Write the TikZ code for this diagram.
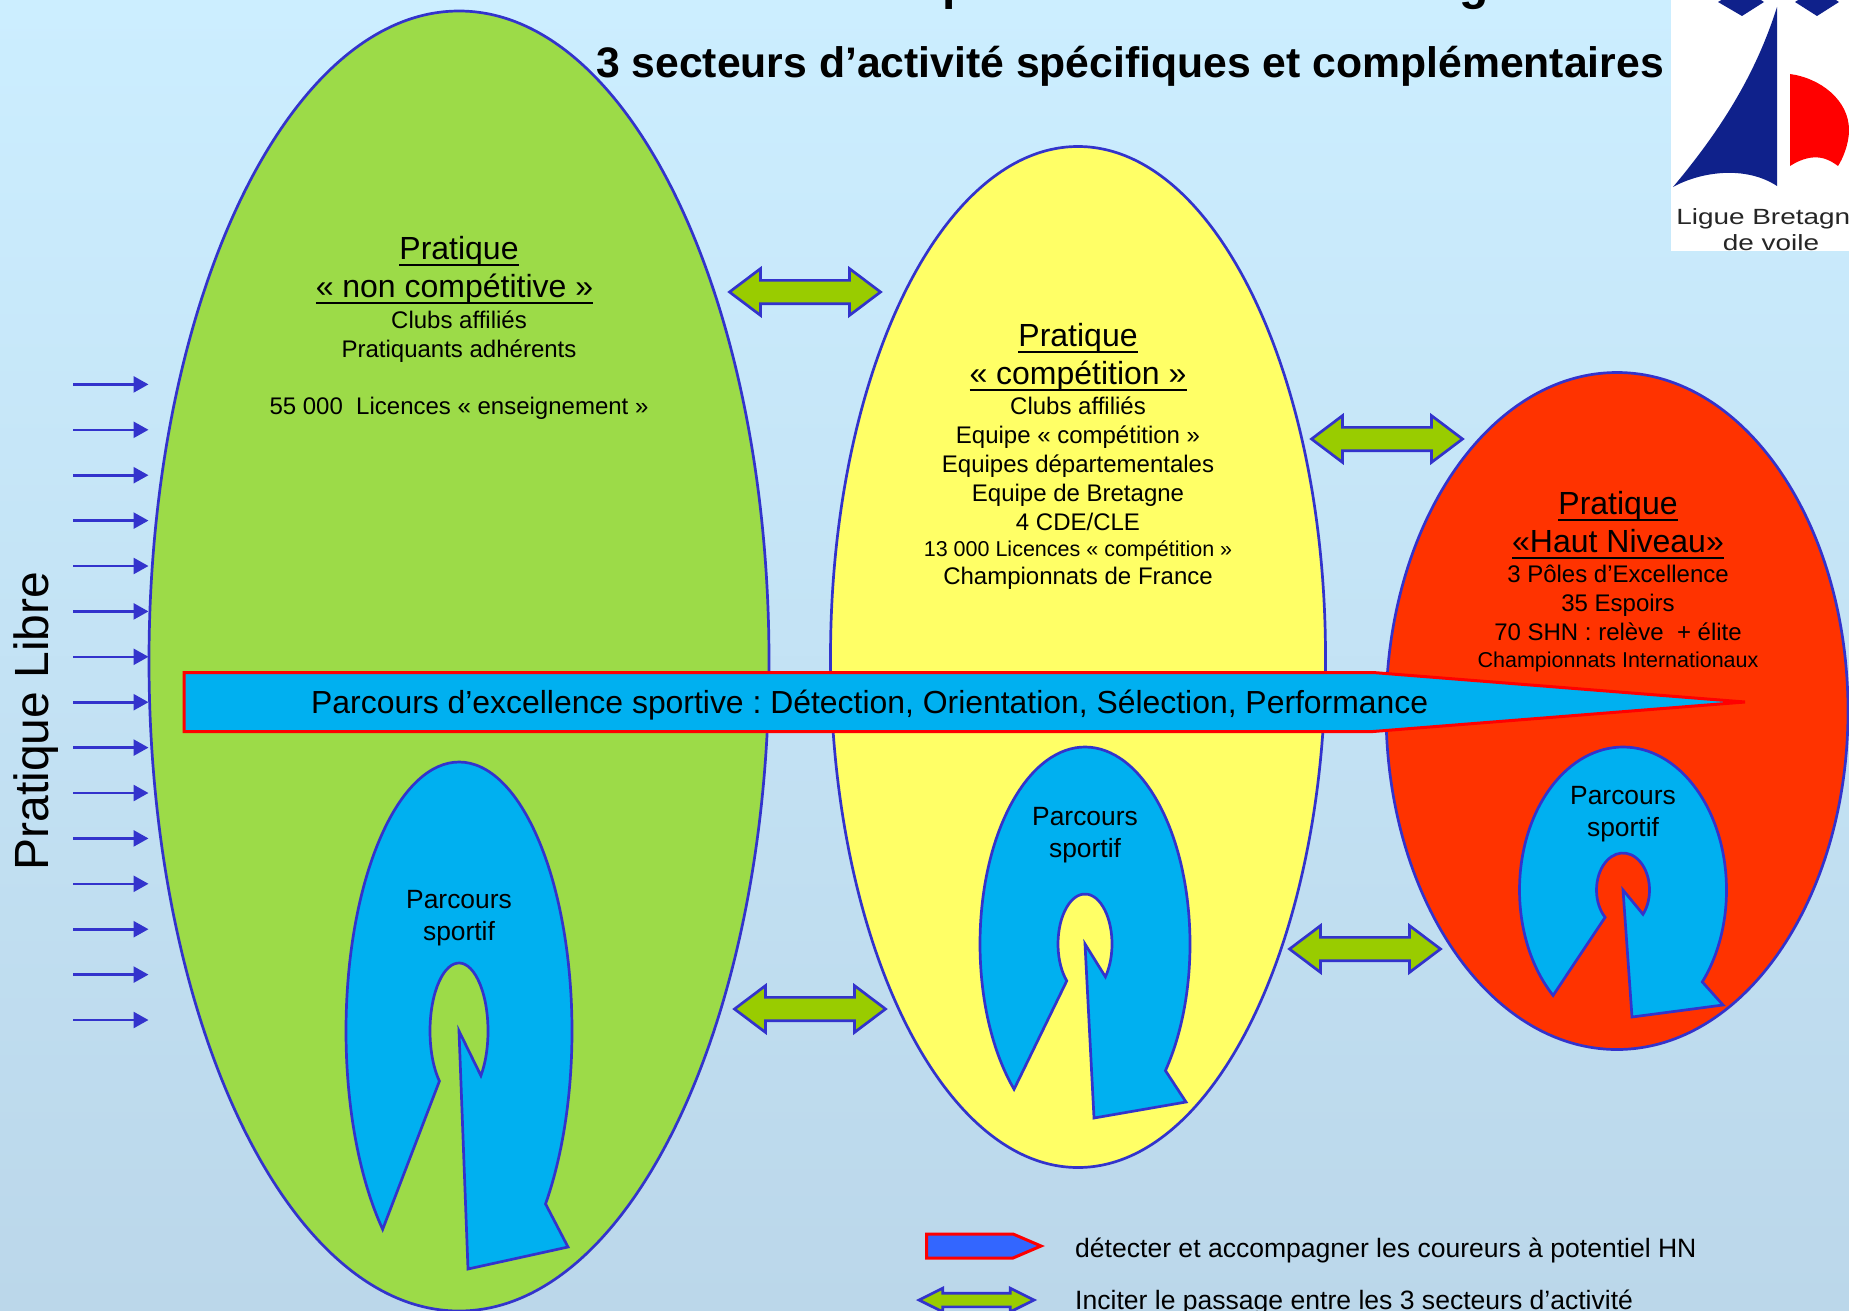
\documentclass[tikz,border=0pt]{standalone}
\usepackage{fontspec}
\setmainfont{Liberation Sans}
\usetikzlibrary{arrows.meta,calc,shapes.geometric,shapes.arrows}
\frenchspacing

\definecolor{fond1}{HTML}{CCEEFF}
\definecolor{fond2}{HTML}{BBD7EA}
\definecolor{vert}{HTML}{9CDB48}
\definecolor{jaune}{HTML}{FFFF66}
\definecolor{rouge}{HTML}{FF3300}
\definecolor{ciel}{HTML}{00B0F0}
\definecolor{trait}{HTML}{3333CC}
\definecolor{passage}{HTML}{99CC00}
\definecolor{marine}{HTML}{0F218B}
\definecolor{legbleu}{HTML}{3366FF}

% texte souligne, le trait passe sur les jambages
\newcommand{\souligne}[1]{\setbox0\hbox{#1}\rlap{\rule[-.22em]{\wd0}{.075em}}\box0}
% #1 centre, #2 #3 ellipse externe, #4 #5 ellipse interne, #6 #7 #8 pointe
\newcommand{\parcours}[8]{
  \draw[parcoursline] (#1) -- ++(-41:#4pt and #5pt)
    arc[start angle=-41, end angle=227.5, x radius=#4pt, y radius=#5pt]
    -- ($(#1)+(227.5:#2pt and #3pt)$)
    arc[start angle=227.5, end angle=-40, x radius=#2pt, y radius=#3pt]
    -- (#6) -- (#7) -- (#8) -- cycle;
}

\begin{document}
\begin{tikzpicture}[x=1pt,y=-1pt]

  \tikzstyle{secteur} = [ellipse,draw=trait,line width=2.7pt,inner sep=0pt]
  \tikzstyle{parcoursline} = [draw=trait,fill=ciel,line width=2.7pt,line join=miter]
  \tikzstyle{echange} = [double arrow,draw=trait,fill=passage,line width=2.7pt,
                         minimum height=151pt,inner xsep=0pt,inner ysep=10.3pt,
                         double arrow tip angle=74,double arrow head extend=11.7pt]
  \tikzstyle{titre} = [align=center,inner sep=0pt,anchor=north,font=\fontsize{32}{38}\selectfont]
  \tikzstyle{corps} = [align=center,inner sep=0pt,anchor=north,font=\fontsize{24}{28.8}\selectfont]
  \tikzstyle{petit} = [inner sep=0pt,anchor=base,font=\fontsize{21.5}{26}\selectfont]
  \tikzstyle{sportif} = [align=center,inner sep=0pt,anchor=north,font=\fontsize{26.4}{32}\selectfont]
  \tikzstyle{legende} = [inner sep=0pt,anchor=base west,font=\fontsize{26.55}{30}\selectfont]
  \tikzstyle{logotexte} = [inner sep=0pt,xscale=1.27,text=black!85,font=\fontsize{22}{26}\selectfont]

  \useasboundingbox (0,0) rectangle (1849,1311);
  \shade[top color=fond1,bottom color=fond2] (0,0) rectangle (1849,1311);

  % les trois secteurs
  \node[secteur,fill=vert,minimum width=620pt,minimum height=1300pt]  (noncomp) at (459,661) {};
  \node[secteur,fill=jaune,minimum width=495pt,minimum height=1021pt] (comp)    at (1078,657) {};
  \node[secteur,fill=rouge,minimum width=462pt,minimum height=677pt]  (haut)    at (1617,711) {};

  % titre
  \node[inner sep=0pt,anchor=base,font=\fontsize{48}{50}\bfseries\selectfont] (titreP) at (957,0) {p};
  \node[inner sep=0pt,anchor=base,font=\fontsize{48}{50}\bfseries\selectfont] (titreG) at (1474,0) {g};
  \node[inner sep=0pt,anchor=base,font=\fontsize{42.7}{50}\bfseries\selectfont] (soustitre) at (1130,78)
    {3 secteurs d’activité spécifiques et complémentaires};

  % logo
  \fill[white] (1671,0) rectangle (1849,251);
  \fill[marine] (1777,7) .. controls (1757,70) and (1725,125) .. (1673,187)
    .. controls (1700,172) and (1745,165) .. (1777,186) -- cycle;
  \fill[red] (1790,74) .. controls (1820,78) and (1849,100) .. (1849,130)
    .. controls (1849,145) and (1842,160) .. (1838,166)
    .. controls (1830,160) and (1815,150) .. (1790,166) -- cycle;
  \fill[marine] (1718,2) -- (1742,16) -- (1764,2) -- (1742,-12) -- cycle;
  \fill[marine] (1795,2) -- (1817,16) -- (1839,2) -- (1817,-12) -- cycle;
  \node[logotexte,anchor=base west] (logoA) at (1676,224) {Ligue Bretagne};
  \node[logotexte,anchor=base] (logoB) at (1771,250) {de voile};

  % parcours sportifs
  \parcours{459,1031}{113}{269}{29}{68}{568,1247}{468,1269}{459,1031}
  \parcours{1085,944}{105}{197}{27}{50}{1186,1102}{1094,1118}{1085,944}
  \parcours{1623,890}{103.5}{143}{26.5}{37}{1723,1005}{1632,1017}{1623,890}

  % fleche excellence
  \draw[draw=red,fill=ciel,line width=3pt,line join=miter]
    (184,672.5) -- (1373,672.5) -- (1745,702) -- (1373,731.5) -- (184,731.5) -- cycle;
  \node[inner sep=0pt,anchor=base west,font=\fontsize{31.9}{38}\selectfont] (excellence) at (311,713)
    {Parcours d’excellence sportive : Détection, Orientation, Sélection, Performance};

  % echanges entre secteurs
  \node[echange] (ech1) at (805,292) {};
  \node[echange] (ech2) at (1387,439) {};
  \node[echange] (ech3) at (1365,949) {};
  \node[echange] (ech4) at (810,1009) {};

  % textes secteur vert
  \node[titre] (titreA) at (459,236) {\souligne{Pratique}\\\souligne{«~non compétitive~»}\hspace*{9pt}};
  \node[corps] (corpsA) at (459,311) {Clubs affiliés\\Pratiquants adhérents\\[27.8pt]55 000~~Licences «~enseignement~»};
  % textes secteur jaune
  \node[titre] (titreB) at (1078,323) {\souligne{Pratique}\\\souligne{«~compétition~»}};
  \node[corps] (corpsB) at (1078,397) {Clubs affiliés\\Equipe «~compétition~»\\Equipes départementales\\Equipe de Bretagne\\4 CDE/CLE};
  \node[petit] (licB) at (1078,556.5) {13 000 Licences «~compétition~»};
  \node[corps,anchor=base] (champB) at (1078,584) {Championnats de France};
  % textes secteur rouge
  \node[titre] (titreC) at (1618,491) {\souligne{Pratique}\\\souligne{«Haut Niveau»}};
  \node[corps] (corpsC) at (1618,565) {3 Pôles d’Excellence\\35 Espoirs\\70 SHN : relève~~+ élite};
  \node[petit] (champC) at (1618,667) {Championnats Internationaux};

  \node[sportif] (sportA) at (459,890.5) {Parcours\\sportif};
  \node[sportif] (sportB) at (1085,807.5) {Parcours\\sportif};
  \node[sportif] (sportC) at (1623,786.5) {Parcours\\sportif};

  % pratique libre
  \node[inner sep=0pt,anchor=base,rotate=90,font=\fontsize{48}{50}\selectfont] (libre) at (48.5,721) {Pratique Libre};
  \foreach \i in {0,...,14} {
    \coordinate (depart\i) at (73,384.4+45.4*\i);
    \coordinate (entree\i) at (148.5,384.4+45.4*\i);
    \draw[-{Triangle[length=15pt,width=16pt]},draw=trait,fill=trait,line width=2.6pt] (depart\i) -- (entree\i);
  }

  % legende
  \draw[draw=red,fill=legbleu,line width=3pt,line join=miter]
    (926.5,1234) -- (1013,1234) -- (1041,1246) -- (1013,1258) -- (926.5,1258) -- cycle;
  \node[legende] (legA) at (1075,1257) {détecter et accompagner les coureurs à potentiel HN};
  \node[echange,minimum height=115pt,inner ysep=5.5pt,double arrow head extend=5pt,double arrow tip angle=53] (legfl) at (976.5,1300) {};
  \node[legende] (legB) at (1075,1309.5) {Inciter le passage entre les 3 secteurs d’activité};

\end{tikzpicture}
\end{document}
